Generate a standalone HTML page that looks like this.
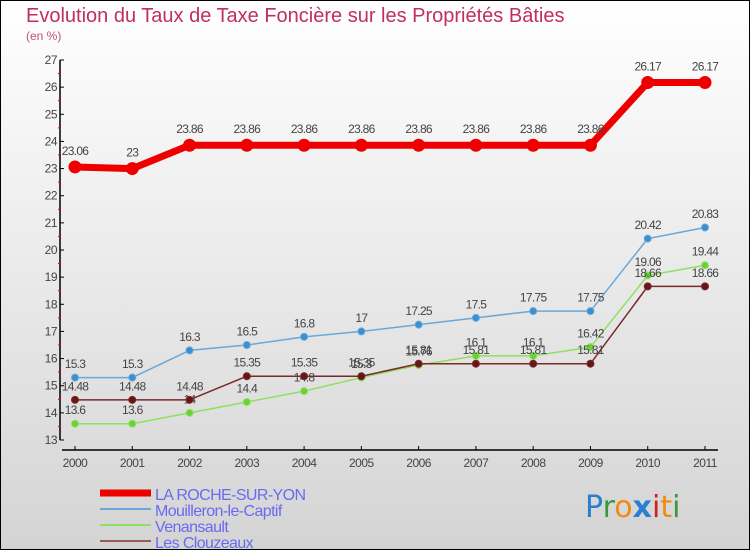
<!DOCTYPE html>
<html><head><meta charset="utf-8"><style>
body{margin:0;}
#wrap{width:750px;height:550px;position:relative;overflow:hidden;box-sizing:border-box;border:1px solid #000;background:linear-gradient(#ffffff,#d4d4d4);font-family:"Liberation Sans",sans-serif;}
</style></head><body>
<div id="wrap">
<svg id="chart" width="750" height="550" style="position:absolute;left:-1px;top:-1px">
<text x="26" y="22" font-size="20" fill="#c0305a">Evolution du Taux de Taxe Foncière sur les Propriétés Bâties</text>
<text x="26" y="40" font-size="12" fill="#c0507a">(en %)</text>
<text x="585" y="517" font-size="30" font-family="DejaVu Sans, sans-serif"><tspan fill="#2a7fd0">P</tspan><tspan fill="#3a9a3a">r</tspan><tspan fill="#f08a10">o</tspan><tspan fill="#2a7fd0" font-weight="bold">x</tspan><tspan fill="#d02020">i</tspan><tspan fill="#f08a10">t</tspan><tspan fill="#3a9a3a">i</tspan></text>
</svg>
</div>
<script>
const years=["2000","2001","2002","2003","2004","2005","2006","2007","2008","2009","2010","2011"];
const yTicks=[13,14,15,16,17,18,19,20,21,22,23,24,25,26,27];
const seriesNames=["LA ROCHE-SUR-YON","Mouilleron-le-Captif","Venansault","Les Clouzeaux"];
const rocheValues=[23.06,23,23.86,23.86,23.86,23.86,23.86,23.86,23.86,23.86,26.17,26.17];
const mouilleronValues=[15.3,15.3,16.3,16.5,16.8,17,17.25,17.5,17.75,17.75,20.42,20.83];
const venansaultValues=[13.6,13.6,14,14.4,14.8,15.3,15.76,16.1,16.1,16.42,19.06,19.44];
const clouzeauxValues=[14.48,14.48,14.48,15.35,15.35,15.35,15.81,15.81,15.81,15.81,18.66,18.66];
const NS="http://www.w3.org/2000/svg";
const svg=document.getElementById('chart');
const x=i=>75+i*(630/11);
const y=v=>440-(v-13)*(380/14);
function mk(t,a,p){const e=document.createElementNS(NS,t);for(const k in a)e.setAttribute(k,a[k]);(p||svg).appendChild(e);return e;}
// axes
let e=mk('line',{x1:60,y1:60,x2:60,y2:440,stroke:'#000','stroke-width':1.5});

e=mk('line',{x1:62,y1:450,x2:718,y2:450,stroke:'#000','stroke-width':1.5});

yTicks.forEach((v,i)=>{
  mk('line',{x1:60,y1:y(v),x2:64,y2:y(v),stroke:'#000'});
  if(i<yTicks.length-1)mk('line',{x1:58,y1:y(v+0.5),x2:61,y2:y(v+0.5),stroke:'#e00'});
  const t=mk('text',{x:57,y:y(v)+4,'font-size':12,fill:'#444','text-anchor':'end','letter-spacing':'-0.5'});t.textContent=v;
  
});
years.forEach((yr,i)=>{
  mk('line',{x1:x(i),y1:446,x2:x(i),y2:450,stroke:'#000'});
  const t=mk('text',{x:x(i),y:467,'font-size':12,fill:'#444','text-anchor':'middle','letter-spacing':'-0.5'});t.textContent=yr;
  
});
function series(vals,color,w,r,dot,name){
  const g=mk('g',{});
  
  mk('polyline',{points:vals.map((v,i)=>x(i)+','+y(v)).join(' '),fill:'none',stroke:color,'stroke-width':w,'stroke-linejoin':'round'},g);
  vals.forEach((v,i)=>{
    const c=mk('circle',{cx:x(i),cy:y(v),r:r,fill:dot,stroke:color,'stroke-width':1},g);
    
    const t=mk('text',{x:x(i),y:y(v)-(r+6),'font-size':12,fill:'#444','text-anchor':'middle','letter-spacing':'-0.7'},g);t.textContent=v;
    
  });
}
series(venansaultValues,'#8fe060',1.5,3.5,'#6cd03a','series-venansault');
series(clouzeauxValues,'#7a2a2a',1.5,3.5,'#6a1515','series-les-clouzeaux');
series(mouilleronValues,'#6aa8d8',1.5,3.5,'#3a8fd0','series-mouilleron');
series(rocheValues,'#ee0000',7,6,'#ee0000','series-la-roche-sur-yon');
// legend
const lc=['#ee0000','#6aa8d8','#8fe060','#9a5a5a'],lw=[7,2,2,2];
seriesNames.forEach((n,i)=>{
  const g=mk('g',{});
  const ly=493+i*16;
  mk('line',{x1:100,y1:ly,x2:151,y2:ly,stroke:lc[i],'stroke-width':lw[i]},g);
  const t=mk('text',{x:155,y:ly+7,'font-size':16,fill:'#6a6af0','letter-spacing':'-0.6'},g);t.textContent=n;
});
</script>
</body></html>
